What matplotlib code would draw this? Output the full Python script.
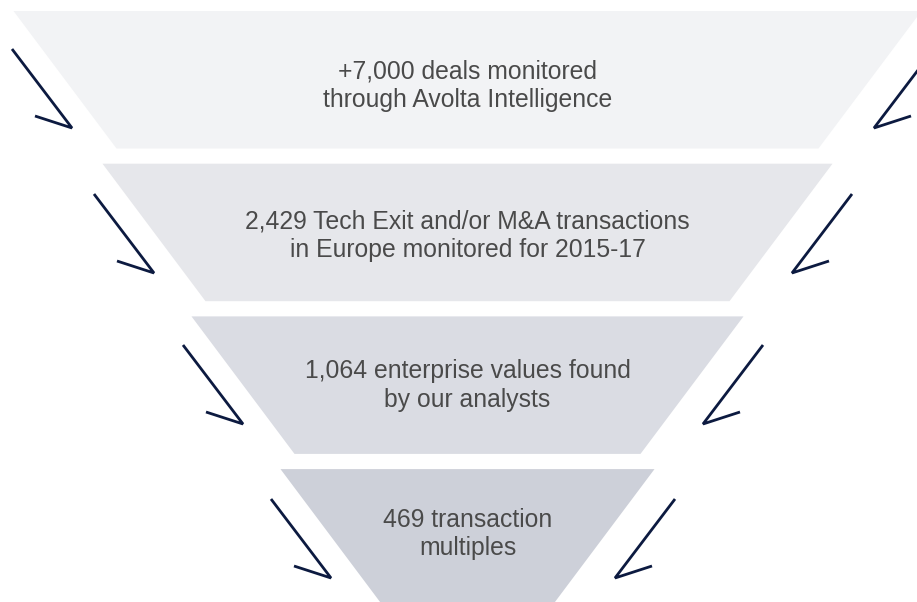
import numpy as np
import matplotlib.pyplot as plt
from matplotlib.patches import Polygon

# textos de cada etapa del embudo (de arriba hacia abajo)
etapas = [
    "+7,000 deals monitored\nthrough Avolta Intelligence",
    "2,429 Tech Exit and/or M&A transactions\nin Europe monitored for 2015-17",
    "1,064 enterprise values found\nby our analysts",
    "469 transaction\nmultiples",
]
colores = ["#f2f3f5", "#e6e7eb", "#dadce3", "#cdd0d9"]

W, H = 917, 602
fig = plt.figure(figsize=(W / 100, H / 100), dpi=100)
ax = fig.add_axes([0, 0, 1, 1])
ax.set_xlim(0, W)
ax.set_ylim(H, 0)
ax.axis('off')

# geometria del embudo (en pixeles)
cx = 467.5
alto = 137.5
paso = 152.7
y0 = 11
semi0 = 454
dsemi = 89
caida = 103  # lo que se estrecha cada banda de arriba a abajo

base_txt = [78, 228, 378, 527]

for i, (txt, col) in enumerate(zip(etapas, colores)):
    top = y0 + i * paso
    bot = top + alto
    s_top = semi0 - dsemi * i
    s_bot = s_top - caida
    pts = [(cx - s_top, top), (cx + s_top, top), (cx + s_bot, bot), (cx - s_bot, bot)]
    ax.add_patch(Polygon(pts, closed=True, facecolor=col, edgecolor='none'))
    l1, l2 = txt.split("\n")
    ax.text(cx, base_txt[i], l1, ha='center', va='baseline', fontsize=17.8,
            family='Liberation Sans', color='#4a4a4a')
    ax.text(cx, base_txt[i] + 28.5, l2, ha='center', va='baseline', fontsize=17.8,
            family='Liberation Sans', color='#4a4a4a')

# flechas a los lados
puntas = [(72, 128), (154, 273), (243, 424), (331, 578)]
eje_espejo = 473
azul = '#0c1a40'
for (tx, ty) in puntas:
    # izquierda
    xs = [tx - 60, tx, tx - 37]
    ys = [ty - 79, ty, ty - 12]
    ax.plot(xs, ys, color=azul, lw=2.0, solid_capstyle='butt', solid_joinstyle='miter')
    # derecha (espejo)
    xs_r = [2 * eje_espejo - x for x in xs]
    ax.plot(xs_r, ys, color=azul, lw=2.0, solid_capstyle='butt', solid_joinstyle='miter')

plt.savefig('out.png', dpi=100)
plt.close()
